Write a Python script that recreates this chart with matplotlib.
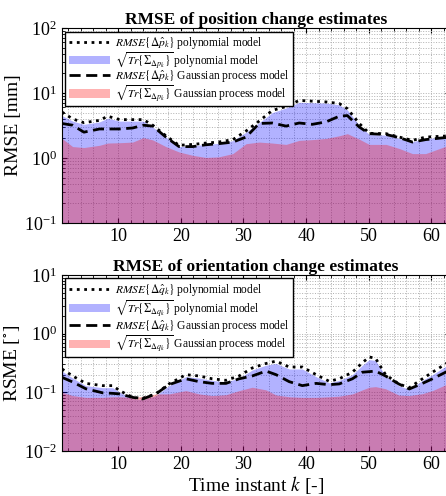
import matplotlib
matplotlib.use("Agg")
import matplotlib.pyplot as plt
from matplotlib.ticker import MultipleLocator, LogLocator, NullFormatter

# position panel (k grid)
k_p = [1, 2.7, 4.5, 7, 8.3, 10.2, 12.3, 14, 15.5, 17.6, 19.7, 21.9, 24, 26, 28.3, 30.4,
       32.5, 34.6, 36.8, 38.9, 41, 43.2, 45.3, 46.6, 48.5, 50.1, 52.8, 54.9, 57, 59.1, 63]
poly_rmse_p = [5.1, 4.0, 3.5, 3.8, 4.4, 3.9, 3.9, 3.9, 3.2, 2.2, 1.57, 1.62, 1.70, 1.76, 1.92, 2.6,
               3.7, 5.4, 6.2, 7.7, 7.5, 7.3, 6.9, 5.75, 3.4, 2.4, 2.37, 2.1, 1.87, 2.1, 2.2]
poly_sig_p = [4.5, 3.7, 3.3, 3.6, 4.1, 3.7, 3.7, 3.7, 3.0, 2.1, 1.5, 1.55, 1.62, 1.68, 1.85, 2.5,
              3.5, 5.0, 5.9, 7.2, 7.1, 7.0, 6.6, 5.5, 3.2, 2.3, 2.25, 2.0, 1.78, 2.0, 2.1]
gp_rmse_p = [3.4, 3.2, 2.5, 2.8, 2.8, 2.8, 2.9, 3.2, 3.1, 2.1, 1.5, 1.5, 1.6, 1.66, 1.76, 2.1,
             3.4, 3.46, 3.1, 3.46, 3.3, 3.6, 4.4, 4.5, 3.0, 2.37, 2.3, 2.06, 1.76, 1.92, 2.1]
gp_sig_p = [2.0, 1.5, 1.45, 1.57, 1.7, 1.72, 1.76, 2.06, 1.9, 1.5, 1.24, 1.1, 1.02, 1.04, 1.17, 1.66,
            1.76, 1.7, 1.62, 1.87, 1.92, 2.0, 2.2, 2.37, 1.95, 1.62, 1.62, 1.4, 1.17, 1.17, 1.6]

# orientation panel
k_q = [1, 2.7, 4.8, 7.5, 9.1, 10.2, 12.3, 13.9, 16, 18.1, 20.8, 22.9, 25, 27.2, 29.3, 31.4,
       33.6, 35.2, 37.3, 39.4, 41.6, 43.7, 45.3, 47.4, 49, 50.1, 51.1, 52.7, 54.8, 56.5, 58.6, 60.2, 63]
poly_rmse_q = [0.25, 0.19, 0.142, 0.13, 0.13, 0.107, 0.082, 0.079, 0.094, 0.139, 0.2, 0.19, 0.17, 0.16,
               0.19, 0.26, 0.31, 0.34, 0.27, 0.27, 0.2, 0.154, 0.17, 0.22, 0.32, 0.4, 0.38, 0.2,
               0.139, 0.12, 0.17, 0.22, 0.34]
poly_sig_q = [0.23, 0.175, 0.13, 0.12, 0.12, 0.1, 0.078, 0.075, 0.088, 0.13, 0.185, 0.175, 0.16, 0.15,
              0.175, 0.24, 0.29, 0.31, 0.25, 0.25, 0.185, 0.145, 0.16, 0.2, 0.29, 0.36, 0.35, 0.19,
              0.13, 0.112, 0.16, 0.2, 0.31]
gp_rmse_q = [0.18, 0.15, 0.115, 0.098, 0.096, 0.094, 0.082, 0.077, 0.094, 0.135, 0.17, 0.152, 0.142,
             0.142, 0.17, 0.19, 0.23, 0.2, 0.152, 0.13, 0.142, 0.135, 0.139, 0.17, 0.22, 0.225, 0.23,
             0.19, 0.139, 0.114, 0.142, 0.17, 0.24]
gp_sig_q = [0.1, 0.088, 0.082, 0.082, 0.084, 0.084, 0.082, 0.085, 0.094, 0.094, 0.107, 0.094, 0.088,
            0.091, 0.107, 0.122, 0.11, 0.09, 0.084, 0.082, 0.082, 0.084, 0.086, 0.094, 0.11, 0.122,
            0.125, 0.115, 0.09, 0.088, 0.095, 0.107, 0.145]

plt.rcParams['font.family'] = ['Liberation Serif', 'DejaVu Serif']
plt.rcParams['mathtext.fontset'] = 'stix'
plt.rcParams['xtick.direction'] = 'in'
plt.rcParams['ytick.direction'] = 'in'

fig = plt.figure(figsize=(4.46, 4.96), dpi=100)
ax1 = fig.add_axes([0.139, 0.5504, 0.870, 0.393])
ax2 = fig.add_axes([0.139, 0.0907, 0.870, 0.355])


def panel(ax, k, prm, psig, grm, gsig, ylo, yhi, sym, title, ylab, lspace):
    ax.set_yscale('log')
    ax.fill_between(k, ylo, psig, color='blue', alpha=0.3, lw=0,
                    label=r'$\sqrt{Tr\{\Sigma_{\Delta %s_k}\}}$ polynomial model' % sym)
    ax.fill_between(k, ylo, gsig, color='red', alpha=0.3, lw=0,
                    label=r'$\sqrt{Tr\{\Sigma_{\Delta %s_k}\}}$ Gaussian process model' % sym)
    ax.plot(k, prm, color='black', ls=':', lw=2,
            label=r'$RMSE\{\Delta\hat{%s}_k\}$ polynomial model' % sym)
    ax.plot(k, grm, color='black', ls=(0, (4, 2)), lw=2,
            label=r'$RMSE\{\Delta\hat{%s}_k\}$ Gaussian process model' % sym)
    ax.set_xlim(1, 63)
    ax.set_ylim(ylo, yhi)
    ax.xaxis.set_major_locator(MultipleLocator(10))
    ax.xaxis.set_minor_locator(MultipleLocator(2))
    ax.yaxis.set_major_locator(LogLocator(base=10, numticks=10))
    ax.yaxis.set_minor_locator(LogLocator(base=10, subs=range(2, 10), numticks=20))
    ax.yaxis.set_minor_formatter(NullFormatter())
    ax.grid(True, which='both', ls=':', color='#b0b0b0', lw=0.7)
    ax.set_axisbelow(True)
    ax.tick_params(labelsize=13, top=True, right=True, which='both')
    ax.set_title(title, fontsize=12.5, fontweight='bold', pad=3)
    ax.set_ylabel(ylab, fontsize=14, labelpad=2)
    h, l = ax.get_legend_handles_labels()
    order = [2, 0, 3, 1]
    leg = ax.legend([h[i] for i in order], [l[i] for i in order], loc='upper left',
                    fontsize=8.3, handlelength=3.6, handletextpad=0.4, labelspacing=lspace,
                    borderpad=0.3, fancybox=False, framealpha=1, edgecolor='black',
                    borderaxespad=0.3)
    leg.get_frame().set_linewidth(1.0)


panel(ax1, k_p, poly_rmse_p, poly_sig_p, gp_rmse_p, gp_sig_p, 0.1, 100, 'p',
      'RMSE of position change estimates', 'RMSE [mm]', -0.1)
panel(ax2, k_q, poly_rmse_q, poly_sig_q, gp_rmse_q, gp_sig_q, 0.01, 10, 'q',
      'RMSE of orientation change estimates', r'RSME [$^{\circ}$]', 0.0)
ax2.set_xlabel(r'Time instant $k$ [-]', fontsize=14, labelpad=1)

fig.savefig('out.png', dpi=100)
